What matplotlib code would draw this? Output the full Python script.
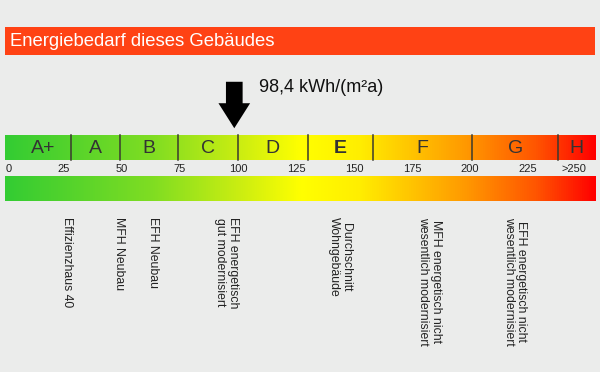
"""
Energieausweis-Skala (Energiebedarf dieses Gebaeudes)
"""

import matplotlib.pyplot as plt
import numpy as np
from matplotlib.colors import LinearSegmentedColormap

plt.rcParams['font.family'] = ['Liberation Sans', 'DejaVu Sans']

#---------------------------------------------------------------------------------------------------
# Data
#---------------------------------------------------------------------------------------------------

title = 'Energiebedarf dieses Gebäudes'
value = 98.4
value_label = '98,4 kWh/(m²a)'

class_names = ['A+', 'A', 'B', 'C', 'D', 'E', 'F', 'G', 'H']
class_bounds = [0, 28, 49, 74, 100, 130, 158, 201, 238, 254]   # as drawn on the scale
bold_class = 'E'

tick_values = [0, 25, 50, 75, 100, 125, 150, 175, 200, 225, 250]
tick_labels = ['0', '25', '50', '75', '100', '125', '150', '175', '200', '225', '>250']

ref_names = ['Effizienzhaus 40', 'MFH Neubau', 'EFH Neubau',
             'EFH energetisch\ngut modernisiert', 'Durchschnitt\nWohngebäude',
             'MFH energetisch nicht\nwesentlich modernisiert',
             'EFH energetisch nicht\nwesentlich modernisiert']
ref_values = [26.5, 48.5, 63.5, 95, 144, 182.5, 219.5]

#---------------------------------------------------------------------------------------------------
# Plot
#---------------------------------------------------------------------------------------------------

bg = '#ebeceb'
cmap = LinearSegmentedColormap.from_list(
    'energie', [(0.0, '#33cc33'), (0.25, '#80dd22'), (0.40, '#ccee11'), (0.50, '#ffff00'),
                (0.60, '#ffee00'), (0.78, '#ff9900'), (0.90, '#ff5500'), (1.0, '#ff0000')])

ppu = 2.32     # pixels per kWh
x0 = 6.0       # pixel of 0 kWh
fig = plt.figure(figsize=(6, 3.72), dpi=100, facecolor=bg)
ax = fig.add_axes([0, 0, 1, 1])
ax.axis('off')
ax.set_facecolor(bg)

# title bar
ax.fill_between([-0.4, class_bounds[-1]], 27, 55, color='#ff4214', lw=0)
ax.text(1.6, 41.5, title, color='white', fontsize=13.3, va='center', ha='left')

# class bar and gradient bar
grad = np.linspace(0, 1, 512).reshape(1, -1)
xmin, xmax = -0.4, class_bounds[-1]
ax.imshow(grad, cmap=cmap, aspect='auto', extent=(xmin, xmax, 160, 135), zorder=1)
ax.imshow(grad, cmap=cmap, aspect='auto', extent=(xmin, xmax, 201, 176), zorder=1)
ax.set_xlim(-x0 / ppu, (600 - x0) / ppu)
ax.set_ylim(372, 0)

for b in class_bounds[1:-1]:
    ax.plot([b, b], [135, 160], color='#3a3a30', lw=1.1, zorder=2)
for name, lo, hi in zip(class_names, class_bounds[:-1], class_bounds[1:]):
    xc = (lo + hi) / 2
    if name == 'A+':
        xc += 2
    ax.text(xc, 148.5, name, ha='center', va='center', fontsize=14, color='#333333',
            fontweight='bold' if name == bold_class else 'normal', zorder=3)

# tick labels
for v, lab in zip(tick_values, tick_labels):
    ha = 'center'
    if v == 0:
        ha = 'left'
    elif v == tick_values[-1]:
        ha = 'right'
    ax.text(v, 168.5, lab, ha=ha, va='center', fontsize=8, color='#222222')

# arrow for this building
ax.annotate('', xy=(value, 131), xytext=(value, 79),
            arrowprops=dict(arrowstyle='simple,head_length=1.5,head_width=1.9,tail_width=1.0',
                            color='black', lw=0, mutation_scale=12))
ax.text(value + 10.5, 88, value_label, fontsize=13, va='center', ha='left', color='#111111')

# reference buildings
for name, v in zip(ref_names, ref_values):
    ax.text(v, 217, name, rotation=-90, ha='center', va='top', fontsize=8.8,
            color='#222222', linespacing=1.05)

plt.savefig('out.png', dpi=100, facecolor=bg)
